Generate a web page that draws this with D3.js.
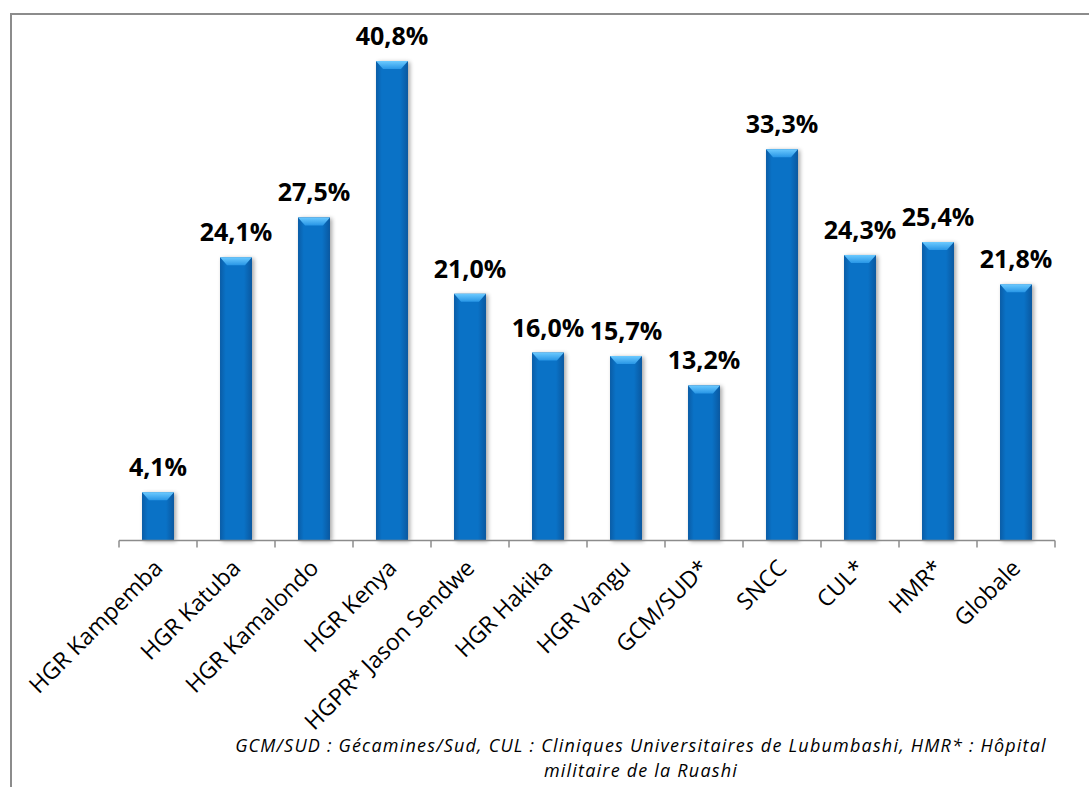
<!DOCTYPE html>
<html>
<head>
<meta charset="utf-8">
<script src="https://cdn.jsdelivr.net/npm/d3@7"></script>
<style>
  body { margin: 0; background: #fff; }
  svg { display: block; }
</style>
</head>
<body>
<svg></svg>
<script>
var categories = ["HGR Kampemba", "HGR Katuba", "HGR Kamalondo", "HGR Kenya", "HGPR* Jason Sendwe",
                  "HGR Hakika", "HGR Vangu", "GCM/SUD*", "SNCC", "CUL*", "HMR*", "Globale"]
var values = [4.1, 24.1, 27.5, 40.8, 21.0, 16.0, 15.7, 13.2, 33.3, 24.3, 25.4, 21.8]
var noteLines = ["GCM/SUD : Gécamines/Sud, CUL : Cliniques Universitaires de Lubumbashi, HMR* : Hôpital",
                 "militaire de la Ruashi"]

function main(){
    var width = 1089
    var height = 787
    var svg = d3.select('svg').attr("width", width).attr("height", height)
    var font = "'Open Sans', 'Noto Sans', sans-serif"

    var data = categories.map((c,i) => ({name:c, value:values[i]}))

    // outer frame (only top and left show in the picture)
    svg.append("rect")
        .attr("x", 11).attr("y", 14)
        .attr("width", 1200).attr("height", 900)
        .attr("fill", "none")
        .attr("stroke", "#8c8c8c")
        .attr("stroke-width", 2)

    var defs = svg.append("defs")
    var grad = defs.append("linearGradient").attr("id", "barGrad")
        .attr("x1", "0").attr("x2", "1").attr("y1", "0").attr("y2", "0")
    grad.append("stop").attr("offset", "0%").attr("stop-color", "#0a5ca6")
    grad.append("stop").attr("offset", "18%").attr("stop-color", "#0a72c6")
    grad.append("stop").attr("offset", "75%").attr("stop-color", "#0a72c6")
    grad.append("stop").attr("offset", "100%").attr("stop-color", "#0a58a0")
    var capGrad = defs.append("linearGradient").attr("id", "capGrad")
        .attr("x1", "0").attr("x2", "0").attr("y1", "0").attr("y2", "1")
    capGrad.append("stop").attr("offset", "0%").attr("stop-color", "#6ccaff")
    capGrad.append("stop").attr("offset", "100%").attr("stop-color", "#2896e6")
    var blur = defs.append("filter").attr("id", "shadow")
        .attr("x", "-30%").attr("y", "-10%").attr("width", "160%").attr("height", "120%")
    blur.append("feGaussianBlur").attr("stdDeviation", 2)

    var xScale = d3.scaleBand()
                    .domain(categories)
                    .range([119, 1055])
                    .paddingInner(0.59)
                    .paddingOuter(0.295)
    var xStep = d3.scaleBand()
                    .domain(categories)
                    .range([119, 1055])
    var yScale = d3.scaleLinear()
                    .domain([0, 45])
                    .range([540.5, 11.75])

    // bar shadows
    svg.append("g").selectAll("rect")
        .data(data)
        .join("rect")
        .attr("x", d => xScale(d.name) + 2)
        .attr("y", d => yScale(d.value) + 1)
        .attr("width", xScale.bandwidth())
        .attr("height", d => yScale(0) - yScale(d.value))
        .attr("fill", "#000")
        .attr("opacity", 0.35)
        .attr("filter", "url(#shadow)")

    svg.append("g").selectAll("rect")
        .data(data)
        .join("rect")
        .attr("x", d => xScale(d.name))
        .attr("y", d => yScale(d.value))
        .attr("width", xScale.bandwidth())
        .attr("height", d => yScale(0) - yScale(d.value))
        .attr("fill", "url(#barGrad)")

    // bevel on top of each bar
    var bw = xScale.bandwidth()
    svg.append("g").selectAll("path")
        .data(data)
        .join("path")
        .attr("d", d => {
            var x0 = xScale(d.name), x1 = x0 + bw, t = yScale(d.value)
            return "M" + x0 + "," + t + "L" + x1 + "," + t +
                   "L" + (x1 - bw*0.22) + "," + (t + 8) +
                   "L" + (x0 + bw*0.22) + "," + (t + 8) + "Z"
        })
        .attr("fill", "url(#capGrad)")

    // axis line and ticks at band borders
    var axis = svg.append("g").attr("class", "xAxis")
    axis.append("line")
        .attr("x1", xStep.range()[0]).attr("x2", xStep.range()[1])
        .attr("y1", yScale(0)).attr("y2", yScale(0))
        .attr("stroke", "#8c8c8c").attr("stroke-width", 1.5)
    var tickPos = categories.map(c => xStep(c)).concat([xStep.range()[1]])
    axis.selectAll(".tick")
        .data(tickPos)
        .join("line")
        .attr("class", "tick")
        .attr("x1", d => d).attr("x2", d => d)
        .attr("y1", yScale(0)).attr("y2", yScale(0) + 7)
        .attr("stroke", "#8c8c8c").attr("stroke-width", 1.5)

    // rotated category labels
    svg.append("g").selectAll("text")
        .data(categories)
        .join("text")
        .attr("transform", d => "translate(" + (xScale(d) + bw/2 + 6) + "," + (yScale(0) + 29) + ") rotate(-45)")
        .attr("text-anchor", "end")
        .style("font-family", font)
        .style("font-size", "23px")
        .attr("fill", "#000")
        .text(d => d)

    // value labels
    svg.append("g").selectAll("text")
        .data(data)
        .join("text")
        .attr("x", d => xScale(d.name) + bw/2)
        .attr("y", d => yScale(d.value) - 16)
        .attr("text-anchor", "middle")
        .style("font-family", font)
        .style("font-size", "25px")
        .style("font-weight", "bold")
        .attr("fill", "#000")
        .text(d => d.value.toFixed(1).replace(".", ",") + "%")

    // footnote
    svg.append("g").selectAll("text")
        .data(noteLines)
        .join("text")
        .attr("x", 641)
        .attr("y", (d,i) => 752 + i*24.5)
        .attr("text-anchor", "middle")
        .style("font-family", font)
        .style("font-size", "18px")
        .style("font-style", "italic")
        .style("letter-spacing", "1.2px")
        .attr("fill", "#000")
        .text(d => d)
}
main()
</script>
</body>
</html>
